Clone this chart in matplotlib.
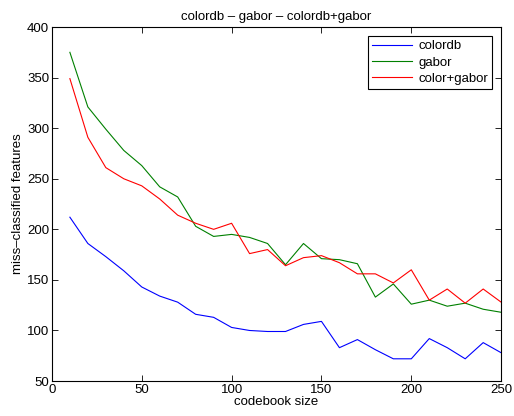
import numpy as np
import matplotlib.pyplot as plt

codebook = list(range(10, 251, 10))
colordb = [212, 186, 173, 159, 143, 134, 128, 116, 113, 103, 100, 99, 99, 106, 109,
           83, 91, 81, 72, 72, 92, 83, 72, 88, 78]
gabor = [375, 321, 299, 278, 263, 242, 232, 203, 193, 195, 192, 186, 165, 186, 171,
         170, 166, 133, 146, 126, 130, 124, 127, 121, 118]
colorgabor = [349, 291, 261, 250, 243, 230, 214, 206, 200, 206, 176, 180, 164, 172, 174,
              167, 156, 156, 147, 160, 130, 141, 127, 141, 128]

plt.rcParams['font.family'] = ['Liberation Sans', 'DejaVu Sans']
plt.rcParams['font.size'] = 9.5

fig = plt.figure(figsize=(5.14, 4.16), dpi=100)
ax = fig.add_axes([0.101, 0.084, 0.874, 0.851])

ax.plot(codebook, colordb, color='#0000ff', lw=0.8, label='colordb')
ax.plot(codebook, gabor, color='#008000', lw=0.8, label='gabor')
ax.plot(codebook, colorgabor, color='#ff0000', lw=0.8, label='color+gabor')

ax.set_xlim(0, 250)
ax.set_ylim(50, 400)
ax.set_xticks(np.arange(0, 251, 50))
ax.set_yticks(np.arange(50, 401, 50))
ax.tick_params(direction='in', top=True, right=True, length=4.5, width=0.6,
               labelsize=9.5, pad=2)
for s in ax.spines.values():
    s.set_linewidth(0.8)

ax.set_title('colordb \u2013 gabor \u2013 colordb+gabor', fontsize=9.5, pad=5)
ax.set_xlabel('codebook size', fontsize=9.5, labelpad=0)
ax.set_ylabel('miss\u2013classified features', fontsize=9.5, labelpad=2)

leg = ax.legend(loc='upper right', fancybox=False, edgecolor='black', framealpha=1,
                handlelength=3.0, borderaxespad=0.7, labelspacing=0.3,
                borderpad=0.3, handletextpad=0.5, fontsize=9.5)
leg.get_frame().set_linewidth(0.8)

fig.savefig('out.png', dpi=100)
